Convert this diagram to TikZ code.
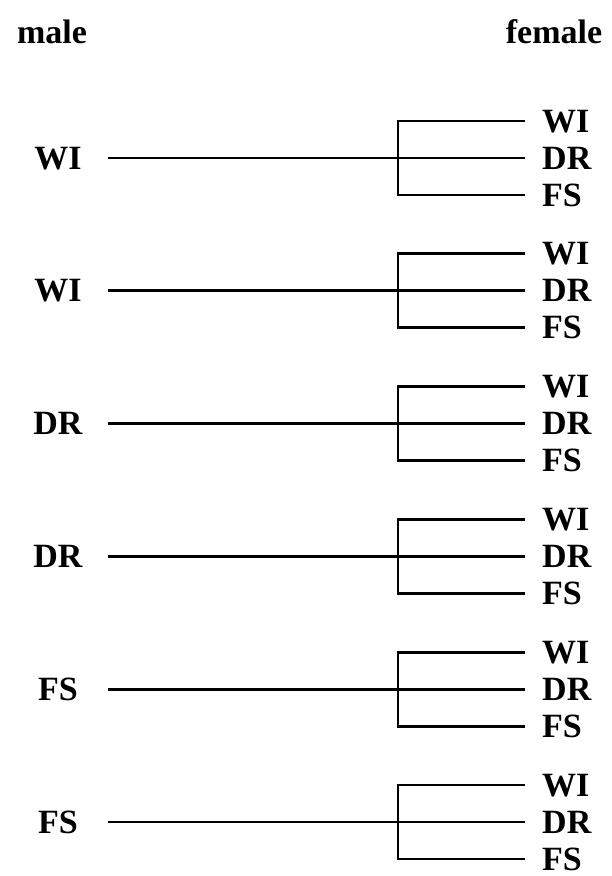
\documentclass[tikz,border=0pt]{standalone}
\usepackage{fontspec}
\setmainfont{Liberation Serif}
\begin{document}
\begin{tikzpicture}[x=1pt,y=-1pt,
  lab/.style={font=\fontsize{34}{37}\selectfont\bfseries, inner sep=0pt},
  wire/.style={line width=2.8pt}]
\useasboundingbox (0,0) rectangle (611,876);
\node[lab,anchor=base] (male) at (52,43) {male};
\node[lab,anchor=base] (female) at (554,43) {female};
\foreach \i/\m in {1/WI,2/WI,3/DR,4/DR,5/FS,6/FS} {
  \pgfmathsetmacro{\y}{158+132.8*(\i-1)}
  \node[lab,anchor=base] (m\i) at (58,{\y+11}) {\m};
  \coordinate (s\i) at (108,\y);
  \coordinate (j\i) at (398,\y);
  \coordinate (jt\i) at (398,{\y-37});
  \coordinate (jb\i) at (398,{\y+37});
  \coordinate (e\i) at (525,\y);
  \coordinate (et\i) at (525,{\y-37});
  \coordinate (eb\i) at (525,{\y+37});
  \node[lab,anchor=base west] (fw\i) at (542,{\y-37+11}) {WI};
  \node[lab,anchor=base west] (fd\i) at (542,{\y+11}) {DR};
  \node[lab,anchor=base west] (ff\i) at (542,{\y+37+11}) {FS};
  \draw[wire] (s\i) -- (e\i);
  \draw[wire] (et\i) -- (jt\i) -- (jb\i) -- (eb\i);
}
\end{tikzpicture}
\end{document}
